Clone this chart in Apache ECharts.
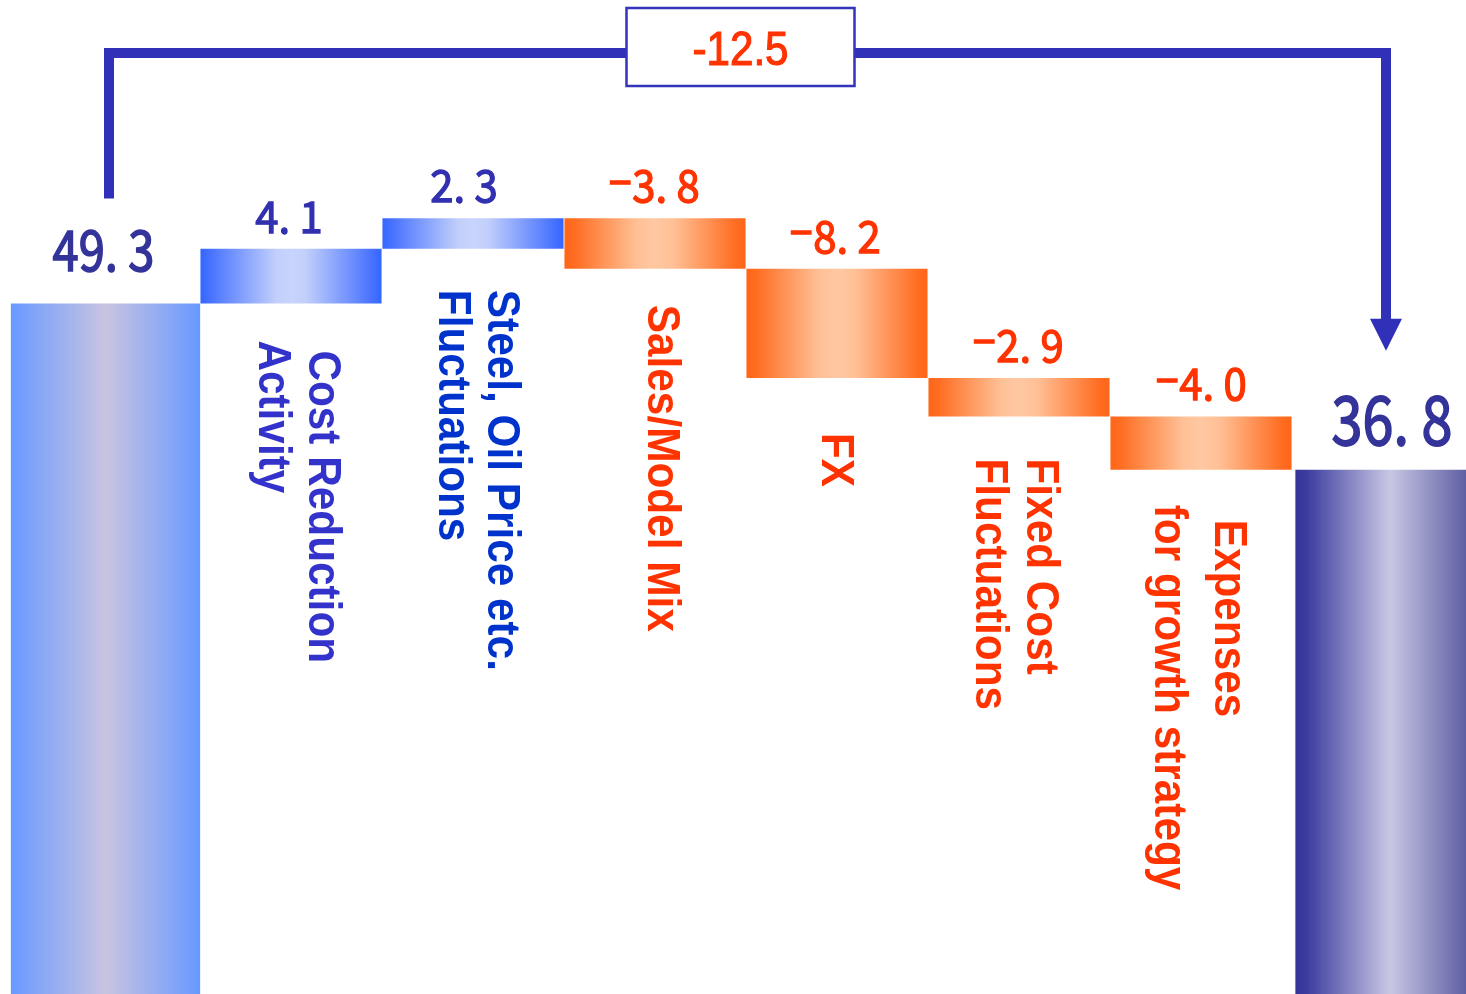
<!DOCTYPE html>
<html><head><meta charset="utf-8">
<script src="https://cdn.jsdelivr.net/npm/echarts@6/dist/echarts.min.js"></script>
<style>html,body{margin:0;padding:0;background:#fff;overflow:hidden}#c{width:1466px;height:994px}</style>
</head><body><div id="c"></div>
<script>
// ---------- data ----------
const startValue = 49.3;
const deltaValues = [4.1, 2.3, -3.8, -8.2, -2.9, -4.0];
const endValue = 36.8;
const totalChange = -12.5;
const deltaLabels = ['Cost Reduction\nActivity', 'Steel, Oil Price etc.\nFluctuations', 'Sales/Model Mix', 'FX', 'Fixed Cost\nFluctuations', 'Expenses\nfor growth strategy'];
const categories = ['Start'].concat(deltaLabels, ['End']);

// ---------- layout (pixels) ----------
const yMin = -2.6, yMax = 72.1;
const barDx = [-3.5, 0, 0, 0, 0, 0, 0, 7];
const valueDx = [-2, -2, -9, -1, -2, -1, 0, 2];
const catDx = [0, 6, 3, 6, -2, -5, -3, 0];
const lineGap = [0, 50, 49, 0, 0, 51, 60, 0];
const labelStart = [null, [47, 37], [41, 41], [36], [55], [42, 42], [50, 35], null];

// ---------- build items ----------
const labelValues = [startValue].concat(deltaValues, [endValue]);
const items = [[0, yMin, startValue, 0]];
let run = startValue;
deltaValues.forEach(function (d, k) {
  const a = run, b = run + d;
  items.push([k + 1, Math.min(a, b), Math.max(a, b), d >= 0 ? 1 : 2]);
  run = b;
});
items.push([categories.length - 1, yMin, endValue, 3]);

function grad(stops) {
  return new echarts.graphic.LinearGradient(0, 0, 1, 0, stops.map(function (s) { return { offset: s[0], color: s[1] }; }));
}
const fills = [
  grad([[0, '#6699ff'], [0.08, '#78a0fb'], [0.5, '#c8c4e0'], [0.92, '#78a0fb'], [1, '#6699ff']]),
  grad([[0, '#3366ff'], [0.06, '#4a74ff'], [0.42, '#c2cffb'], [0.5, '#c8d4fc'], [0.58, '#c2cffb'], [0.94, '#4a74ff'], [1, '#3366ff']]),
  grad([[0, '#ff6619'], [0.05, '#ff6c20'], [0.4, '#ffc096'], [0.5, '#ffc8a2'], [0.6, '#ffc096'], [0.95, '#ff6c20'], [1, '#ff6619']]),
  grad([[0, '#333399'], [0.06, '#3c3c9e'], [0.5, '#c8c8e4'], [0.94, '#55559f'], [1, '#4a4a9e']])
];
const valueStyle = [
  { size: 56, sx: 0.84, gap: 54, color: '#333399', sw: 1.6 },
  { size: 44, sx: 0.95, gap: 33, color: '#3030b0', sw: 1.3 },
  { size: 44, sx: 0.95, gap: 33, color: '#ff3300', sw: 1.3 },
  { size: 68, sx: 0.82, gap: 51, color: '#333399', sw: 1.8 }
];
const catColors = [null, '#3333cc', '#0033cc', '#ff3300', '#ff3300', '#ff3300', '#ff3300', null];

function fmtParts(v) {
  return { sign: v < 0 ? '\u2212' : '', num: Math.abs(v).toFixed(1).replace('.', '. ') };
}

function renderBar(params, api) {
  const idx = params.dataIndex;
  const i = api.value(0), lo = api.value(1), hi = api.value(2), kind = api.value(3);
  const band = api.size([1, 0])[0];
  const pT = api.coord([i, hi]), pB = api.coord([i, lo]);
  const isTotal = kind === 0 || kind === 3;
  const w = isTotal ? band * 1.04 : band * 0.995;
  const cx = pT[0] + barDx[idx];
  const children = [{
    type: 'rect',
    shape: { x: cx - w / 2, y: pT[1], width: w, height: pB[1] - pT[1] },
    style: { fill: fills[kind] }
  }];
  const vs = valueStyle[kind];
  const parts = fmtParts(labelValues[idx]);
  children.push({
    type: 'text', x: cx + valueDx[idx], y: pT[1] - vs.gap, scaleX: vs.sx,
    style: {
      text: (parts.sign ? '{m|' + parts.sign + '}' : '') + '{n|' + parts.num + '}',
      align: 'center', verticalAlign: 'middle',
      rich: {
        m: { fontFamily: '"Noto Sans"', fontSize: vs.size, fill: vs.color, stroke: vs.color, lineWidth: vs.sw },
        n: { fontFamily: '"Noto Sans CJK JP"', fontSize: vs.size, fill: vs.color, stroke: vs.color, lineWidth: vs.sw }
      }
    }
  });
  if (!isTotal) {
    const lines = categories[idx].split('\n');
    const n = lines.length;
    lines.forEach(function (line, j) {
      children.push({
        type: 'text',
        x: pT[0] + catDx[idx] + ((n - 1) / 2 - j) * lineGap[idx],
        y: pB[1] + labelStart[idx][j],
        rotation: -Math.PI / 2, scaleX: 0.92,
        style: {
          text: line, fontFamily: '"Liberation Sans", Arial, sans-serif', fontWeight: 'bold', fontSize: 46,
          fill: catColors[idx], align: 'left', verticalAlign: 'middle'
        }
      });
    });
  }
  return { type: 'group', children: children };
}

function renderBracket(params, api) {
  const sTop = api.coord([api.value(0), api.value(2)]);
  const eTop = api.coord([api.value(1), api.value(3)]);
  const topY = params.coordSys.y + 53;
  const lx = sTop[0], rx = eTop[0] + 3;
  const botL = sTop[1] - 105;
  const tip = eTop[1] - 119;
  const color = '#3030b8';
  const mid = (lx + rx) / 2 - 7;
  return {
    type: 'group', children: [
      { type: 'polyline', shape: { points: [[lx, botL], [lx, topY], [rx, topY], [rx, tip - 28]] },
        style: { stroke: color, lineWidth: 10, fill: null, lineJoin: 'miter', lineCap: 'butt' } },
      { type: 'polygon', shape: { points: [[rx - 16, tip - 32], [rx + 16, tip - 32], [rx, tip]] }, style: { fill: color } },
      { type: 'rect', shape: { x: mid - 114, y: 8, width: 228, height: 78 }, style: { fill: '#fff', stroke: '#3333bb', lineWidth: 2.5 } },
      { type: 'text', x: mid, y: 51, scaleX: 0.86,
        style: { text: (totalChange < 0 ? '-' : '') + Math.abs(totalChange).toFixed(1), fontFamily: '"Liberation Sans", Arial, sans-serif',
          fontSize: 49, fill: '#ff3300', stroke: '#ff3300', lineWidth: 1.2, align: 'center', verticalAlign: 'middle' } }
    ]
  };
}

const chart = echarts.init(document.getElementById('c'), null, { renderer: 'canvas' });
chart.setOption({
  animation: false,
  backgroundColor: '#ffffff',
  grid: { left: 18, width: 1456, top: 0, height: 994, outerBoundsMode: 'none', containLabel: false },
  xAxis: { type: 'category', data: categories, show: false },
  yAxis: { type: 'value', min: yMin, max: yMax, show: false },
  series: [
    { type: 'custom', renderItem: renderBar, data: items, clip: false },
    { type: 'custom', renderItem: renderBracket, data: [[0, categories.length - 1, startValue, endValue]], clip: false, z: 3 }
  ]
});
</script></body></html>
